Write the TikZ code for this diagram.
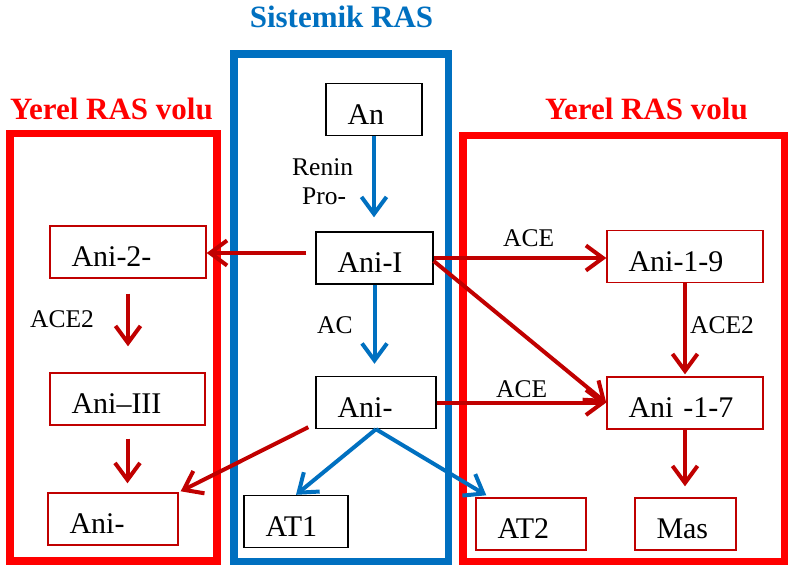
\documentclass[tikz,border=0pt]{standalone}
\usepackage{fontspec}
\setmainfont{Liberation Serif}
\usetikzlibrary{arrows.meta,calc}
\definecolor{rasblue}{HTML}{0070C0}
\definecolor{rasred}{HTML}{FF0000}
\definecolor{rasdark}{HTML}{C00000}
\begin{document}
\begin{tikzpicture}[x=1pt,y=-1pt,
  frame/.style={line width=7.5pt},
  title/.style={font=\rmfamily\fontsize{31}{36}\selectfont\bfseries, anchor=base, inner sep=0pt},
  box/.style={draw, line width=1.4pt, rectangle, font=\rmfamily\fontsize{30}{34}\selectfont,
    align=left, inner xsep=21.5pt, inner ysep=11.5pt, text height=29pt, text depth=0pt},
  kbox/.style={box, draw=black},
  rbox/.style={box, draw=rasdark},
  lbl/.style={font=\rmfamily\fontsize{25.5}{29}\selectfont, anchor=base west, inner sep=0pt},
  barrow/.style={draw=rasblue, line width=4pt, -{Straight Barb[length=17pt,width=25pt]}},
  rarrow/.style={draw=rasdark, line width=4pt, -{Straight Barb[length=17pt,width=25pt]}}]
\useasboundingbox (0,0) rectangle (788,568);
% frames
\draw[frame, rasblue] (234,54) rectangle (448.5,561.5);
\draw[frame, rasred] (10,133.5) rectangle (217,561);
\draw[frame, rasred] (463,135.5) rectangle (784.5,561.5);
% titles
\node[title, text=rasblue] (tsis) at (341.5,27) {Sistemik RAS};
\node[title, text=rasred] (tyl) at (111.5,119) {Yerel RAS volu};
\node[title, text=rasred] (tyr) at (646.5,119.5) {Yerel RAS volu};
% central nodes
\node[kbox, text width=53pt] (an) at (374,109.5) {An};
\node[kbox, text width=74pt] (anii) at (374.5,258) {Ani-I};
\node[kbox, text width=77pt] (anim) at (376,402.5) {Ani-};
\node[kbox, text width=61pt] (at1) at (296,521.5) {AT1};
% left nodes
\node[rbox, text width=113pt] (ani2) at (128,252) {Ani-2-};
\node[rbox, text width=112pt] (ani3) at (127.5,399) {Ani–III};
\node[rbox, text width=87pt] (anil) at (113,519) {Ani-};
% right nodes
\node[rbox, text width=113pt] (a19) at (685,256.5) {Ani-1-9};
\node[rbox, text width=113pt] (a17) at (685,403) {Ani -1-7};
\node[rbox, text width=67pt] (at2) at (531,524) {AT2};
\node[rbox, text width=58pt] (mas) at (685.5,524) {Mas};
% labels
\node[lbl] (lrenin) at (292,175) {Renin};
\node[lbl] (lpro) at (302,204) {Pro-};
\node[lbl] (lac) at (317,333) {AC};
\node[lbl] (lace2l) at (30,327) {ACE2};
\node[lbl] (lacet) at (503,246) {ACE};
\node[lbl] (laceb) at (496,397) {ACE};
\node[lbl] (lace2r) at (690,333) {ACE2};
% blue connectors
\draw[barrow, shorten >=14pt] (an.south) -- (an.south |- anii.north);
\draw[barrow, shorten >=12pt] (anii.south) -- (anii.south |- anim.north);
\draw[barrow] (anim.south) -- (at1.north);
\draw[barrow] (anim.south) -- ($(at2.north west)+(11,-2)$);
% red connectors
\draw[rarrow] ($(anii.west)+(-9,-5)$) -- ($(ani2.east)+(0,1)$);
\draw[rarrow] (anii.east) -- (anii.east -| a19.west);
\draw[rarrow] ($(anii.east)+(0,3)$) -- (a17.west);
\draw[rarrow] (anim.east) -- (anim.east -| a17.west);
\draw[rarrow] ($(anim.south west)+(-7,-2)$) -- ($(anil.north east)+(2,-1)$);
\draw[rarrow, shorten <=15pt, shorten >=26pt] (ani2.south) -- (ani2.south |- ani3.north);
\draw[rarrow, shorten <=13pt, shorten >=9pt] (ani3.south) -- (ani3.south |- anil.north);
\draw[rarrow, shorten >=2pt] (a19.south) -- (a19.south |- a17.north);
\draw[rarrow, shorten >=11pt] (a17.south) -- (a17.south |- mas.north);
\end{tikzpicture}
\end{document}
